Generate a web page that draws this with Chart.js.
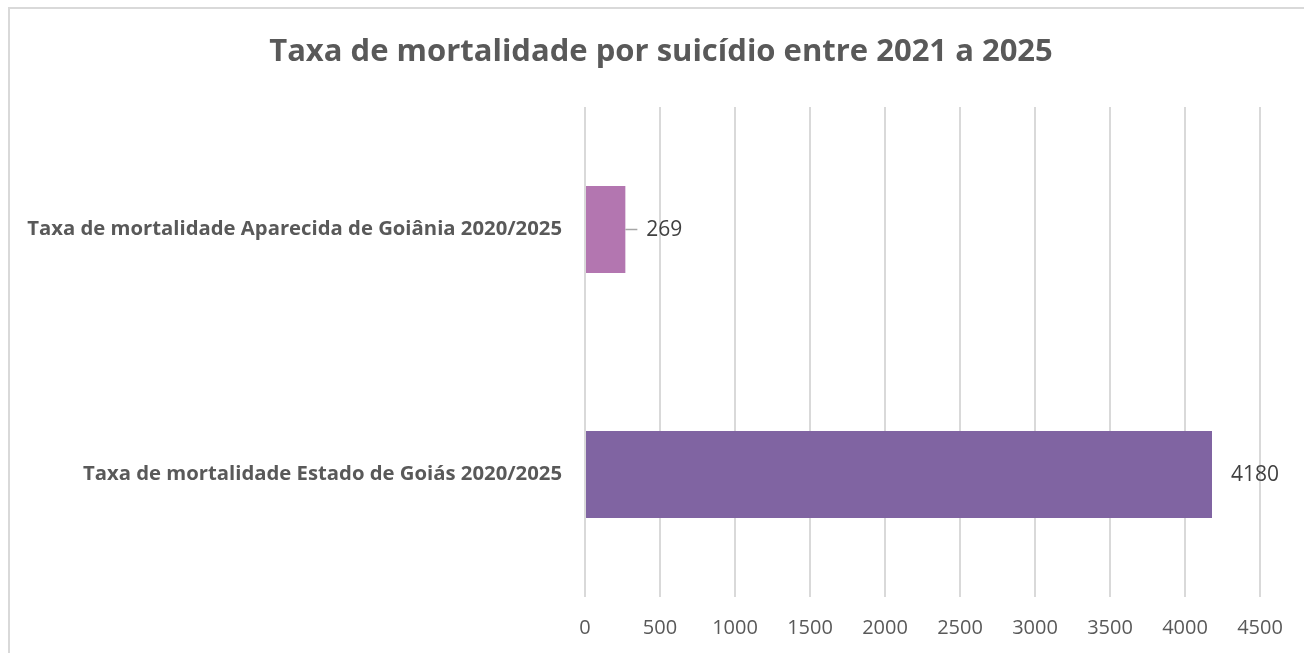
<!DOCTYPE html>
<html>
<head>
<meta charset="utf-8">
<script src="https://cdn.jsdelivr.net/npm/chart.js@4"></script>
<style>
  html, body { margin: 0; padding: 0; background: #fff; overflow: hidden; }
  #wrap { position: absolute; left: 0; top: 0; width: 1304px; height: 653px; }
  #frame { position: absolute; left: 8px; top: 7px; width: 1320px; height: 700px; border: 2px solid #d9d9d9; box-sizing: border-box; pointer-events: none; }
</style>
</head>
<body>
<div id="wrap"><canvas id="c" width="1304" height="653"></canvas></div>
<div id="frame"></div>
<script>
const titleText = 'Taxa de mortalidade por suicídio entre 2021 a 2025';
const categories = [
  'Taxa de mortalidade Aparecida de Goiânia 2020/2025',
  'Taxa de mortalidade Estado de Goiás 2020/2025'
];
const values = [269, 4180];
const barColors = ['#b376b0', '#8064a2'];
const xTicks = [0, 500, 1000, 1500, 2000, 2500, 3000, 3500, 4000, 4500];

const FONT = "'Open Sans', 'DejaVu Sans', sans-serif";

const chartTitle = {
  id: 'chartTitle',
  afterDraw(chart) {
    const ctx = chart.ctx;
    ctx.save();
    ctx.font = 'bold 31px ' + FONT;
    ctx.fillStyle = '#595959';
    ctx.textAlign = 'center';
    ctx.textBaseline = 'middle';
    ctx.fillText(titleText, 661, 52);
    ctx.restore();
  }
};

const valueLabels = {
  id: 'valueLabels',
  afterDatasetsDraw(chart) {
    const ctx = chart.ctx;
    const meta = chart.getDatasetMeta(0);
    ctx.save();
    ctx.font = '21px ' + FONT;
    ctx.fillStyle = '#404040';
    ctx.textBaseline = 'middle';
    ctx.textAlign = 'left';
    meta.data.forEach((el, i) => {
      const v = chart.data.datasets[0].data[i];
      if (i === 0) {
        ctx.strokeStyle = '#a6a6a6';
        ctx.lineWidth = 1.5;
        ctx.beginPath();
        ctx.moveTo(el.x, el.y);
        ctx.lineTo(el.x + 12, el.y);
        ctx.stroke();
        ctx.fillText(String(v), el.x + 21, el.y + 1);
      } else {
        ctx.fillText(String(v), el.x + 19, el.y + 1);
      }
    });
    ctx.restore();
  }
};

new Chart(document.getElementById('c'), {
  type: 'bar',
  data: {
    labels: categories,
    datasets: [{
      data: values,
      backgroundColor: barColors,
      borderWidth: 0,
      categoryPercentage: 0.355,
      barPercentage: 1
    }]
  },
  options: {
    indexAxis: 'y',
    responsive: false,
    animation: false,
    devicePixelRatio: 1,
    layout: { padding: { left: 18, right: 44, top: 107, bottom: 0 } },
    plugins: {
      legend: { display: false },
      tooltip: { enabled: false },
      title: { display: false }
    },
    scales: {
      x: {
        min: 0,
        max: 4500,
        afterBuildTicks(scale) { scale.ticks = xTicks.map(v => ({ value: v })); },
        afterFit(scale) { scale.height = 56; },
        grid: { color: '#d9d9d9', lineWidth: 2, drawTicks: false },
        border: { display: false },
        ticks: {
          color: '#595959',
          font: { family: FONT, size: 20 },
          padding: 19,
          maxRotation: 0,
          callback: (v) => String(v)
        }
      },
      y: {
        afterFit(scale) { scale.width = 567; },
        grid: { display: false, drawTicks: false },
        border: { display: false },
        ticks: {
          color: '#595959',
          font: { family: FONT, size: 20.3, weight: 'bold' },
          padding: 23
        }
      }
    }
  },
  plugins: [valueLabels, chartTitle]
});
</script>
</body>
</html>
